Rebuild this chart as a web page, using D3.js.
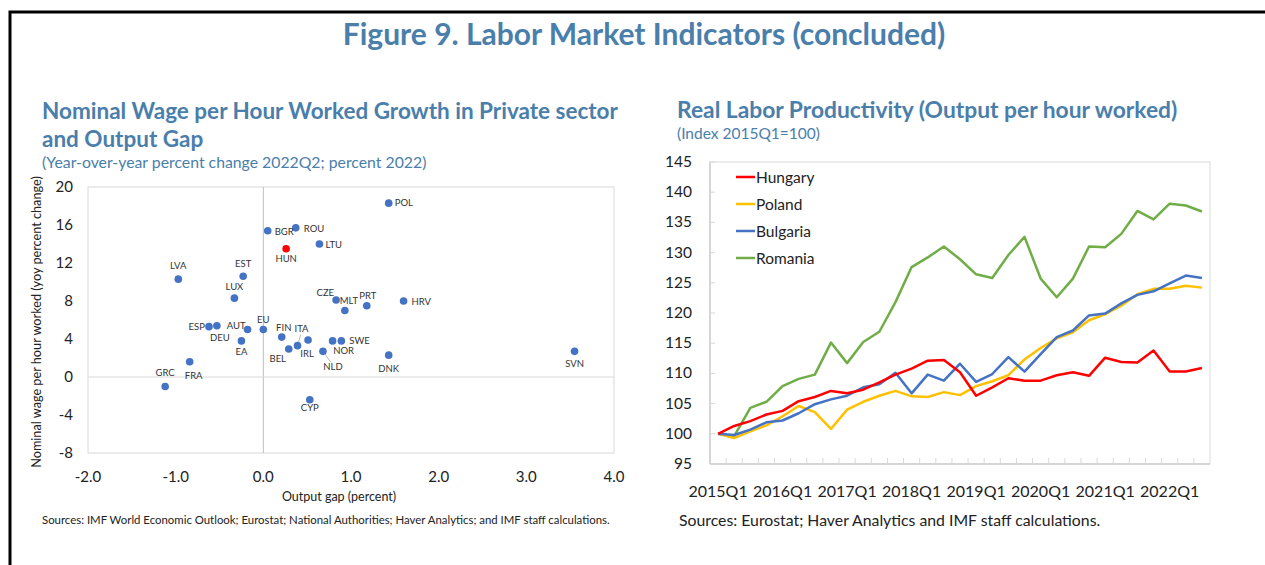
<!DOCTYPE html>
<html>
<head>
<meta charset="utf-8">
<script src="https://cdn.jsdelivr.net/npm/d3@7"></script>
<style>
  body { margin: 0; background: #fff; }
  text { font-family: Lato, "Open Sans", sans-serif; }
</style>
</head>
<body>
<svg id="chart" width="1265" height="565"></svg>
<script>
// scatter: output gap (x) vs nominal wage growth (y)
const countries = ['POL','BGR','ROU','HUN','LTU','CZE','MLT','PRT','HRV','EST','LVA','LUX',
  'ESP','DEU','AUT','EA','EU','FIN','ITA','IRL','BEL','NOR','SWE','NLD','DNK','FRA','GRC','CYP','SVN'];
const outputGap = [1.43, 0.05, 0.37, 0.26, 0.64, 0.83, 0.93, 1.18, 1.60, -0.23, -0.97, -0.33,
  -0.62, -0.53, -0.18, -0.25, 0.0, 0.21, 0.39, 0.51, 0.29, 0.79, 0.89, 0.68, 1.43, -0.84, -1.12, 0.53, 3.55];
const wageGrowth = [18.3, 15.4, 15.7, 13.5, 14.0, 8.1, 7.0, 7.5, 8.0, 10.6, 10.3, 8.3,
  5.3, 5.4, 5.0, 3.8, 5.0, 4.2, 3.3, 3.9, 2.95, 3.8, 3.8, 2.7, 2.3, 1.6, -1.0, -2.4, 2.7];
const xTicks = [-2, -1, 0, 1, 2, 3, 4];
const yTicks = [-8, -4, 0, 4, 8, 12, 16, 20];

// line chart: real labor productivity, index 2015Q1=100
const quarters = [];
for (let y = 2015; y <= 2022; y++) for (let q = 1; q <= 4; q++) quarters.push(y + 'Q' + q);
quarters.length = 31; // through 2022Q3
const hungary  = [100, 101.3, 102.1, 103.2, 103.8, 105.4, 106.1, 107.1, 106.7, 107.3, 108.5, 109.8,
  110.8, 112.1, 112.2, 110.2, 106.3, 107.7, 109.2, 108.8, 108.8, 109.7, 110.2, 109.6, 112.6, 111.9,
  111.8, 113.8, 110.3, 110.3, 110.9];
const poland   = [100, 99.3, 100.4, 101.4, 102.9, 104.6, 103.6, 100.8, 104.0, 105.3, 106.3, 107.1,
  106.2, 106.1, 106.9, 106.4, 107.9, 108.7, 109.7, 112.3, 114.2, 115.8, 116.8, 118.8, 119.8, 121.2,
  123.1, 124.0, 124.0, 124.5, 124.2];
const bulgaria = [100, 99.8, 100.7, 101.9, 102.2, 103.4, 104.9, 105.7, 106.3, 107.7, 108.2, 110.1,
  106.7, 109.8, 108.8, 111.6, 108.6, 109.9, 112.7, 110.3, 113.2, 116.0, 117.1, 119.6, 119.9, 121.6,
  123.0, 123.6, 124.9, 126.2, 125.8];
const romania  = [100, 99.6, 104.3, 105.3, 107.9, 109.1, 109.8, 115.1, 111.7, 115.2, 116.9, 121.8,
  127.6, 129.2, 131.0, 128.9, 126.4, 125.8, 129.6, 132.6, 125.7, 122.6, 125.7, 131.0, 130.9, 133.1,
  136.9, 135.5, 138.1, 137.8, 136.8];
const seriesNames = ['Hungary', 'Poland', 'Bulgaria', 'Romania'];
const seriesColors = ['#ff0000', '#ffc000', '#4472c4', '#70ad47'];
const lineYTicks = [95, 100, 105, 110, 115, 120, 125, 130, 135, 140, 145];

const blue = '#4a7eab';
const svg = d3.select('#chart');

// frame
svg.append('path')
  .attr('d', 'M10,565 V12 H1265')
  .attr('fill', 'none').attr('stroke', '#000').attr('stroke-width', 3);

svg.append('text')
  .attr('x', 644).attr('y', 45)
  .attr('text-anchor', 'middle')
  .attr('fill', blue).attr('font-weight', 700).attr('font-size', 30)
  .text('Figure 9. Labor Market Indicators (concluded)');

// ---------- left panel ----------
const left = svg.append('g');
left.append('text').attr('x', 42).attr('y', 119)
  .attr('fill', blue).attr('font-weight', 700).attr('font-size', 22.5)
  .text('Nominal Wage per Hour Worked Growth in Private sector');
left.append('text').attr('x', 42).attr('y', 147)
  .attr('fill', blue).attr('font-weight', 700).attr('font-size', 22.5)
  .text('and Output Gap');
left.append('text').attr('x', 42).attr('y', 168)
  .attr('fill', blue).attr('font-size', 15.8)
  .text('(Year-over-year percent change 2022Q2; percent 2022)');

const xs = d3.scaleLinear().domain([-2, 4]).range([88, 614]);
const ys = d3.scaleLinear().domain([-8, 20]).range([453, 187]);

left.append('rect')
  .attr('x', xs(-2)).attr('y', ys(20))
  .attr('width', xs(4) - xs(-2)).attr('height', ys(-8) - ys(20))
  .attr('fill', 'none').attr('stroke', '#d9d9d9');
left.append('line')
  .attr('x1', xs(0)).attr('x2', xs(0)).attr('y1', ys(20)).attr('y2', ys(-8))
  .attr('stroke', '#bfbfbf');
left.append('line')
  .attr('x1', xs(-2)).attr('x2', xs(4)).attr('y1', ys(0)).attr('y2', ys(0))
  .attr('stroke', '#d9d9d9');

left.selectAll('.xtick').data(xTicks).enter().append('text')
  .attr('x', d => xs(d)).attr('y', 482)
  .attr('text-anchor', 'middle').attr('font-size', 15).attr('fill', '#222')
  .text(d => d.toFixed(1));
left.selectAll('.ytick').data(yTicks).enter().append('text')
  .attr('x', 73).attr('y', d => ys(d) + 5)
  .attr('text-anchor', 'end').attr('font-size', 15).attr('fill', '#222')
  .text(d => d);

left.append('text').attr('x', 339).attr('y', 501)
  .attr('text-anchor', 'middle').attr('font-size', 12.5).attr('fill', '#222')
  .text('Output gap (percent)');
left.append('text')
  .attr('transform', 'translate(41,322) rotate(-90)')
  .attr('text-anchor', 'middle').attr('font-size', 12.7).attr('fill', '#222')
  .text('Nominal wage per hour worked (yoy percent change)');
left.append('text').attr('x', 42).attr('y', 524)
  .attr('font-size', 11.4).attr('fill', '#222')
  .text('Sources: IMF World Economic Outlook; Eurostat; National Authorities; Haver Analytics; and IMF staff calculations.');

// label placement: [dx, dy, anchor, leader]
const labelPos = {
  POL: [6, 3, 'start'], BGR: [7, 4, 'start'], ROU: [8, 4, 'start'], HUN: [0, 13, 'middle'],
  LTU: [6, 4, 'start'], CZE: [-2, -4, 'end'], MLT: [4, -7, 'middle'], PRT: [1, -7, 'middle'],
  HRV: [8, 4, 'start'], EST: [0, -9, 'middle'], LVA: [0, -10, 'middle'], LUX: [0, -8, 'middle'],
  ESP: [-4, 3, 'end'], DEU: [3, 15, 'middle'], AUT: [-2, -1, 'end'], EA: [0, 14, 'middle'],
  EU: [0, -7, 'middle'], FIN: [2, -6, 'middle'], ITA: [4, -14, 'middle', true],
  IRL: [-1, 17, 'middle'], BEL: [-11, 13, 'middle'], NOR: [11, 13, 'middle'],
  SWE: [8, 3, 'start'], NLD: [10, 19, 'middle', true], DNK: [0, 17, 'middle'],
  FRA: [4, 17, 'middle'], GRC: [0, -11, 'middle'], CYP: [0, 11, 'middle'], SVN: [0, 16, 'middle']
};
const points = countries.map((c, i) => ({ name: c, x: outputGap[i], y: wageGrowth[i] }));

left.selectAll('.leader').data(points.filter(p => labelPos[p.name][3])).enter().append('line')
  .attr('x1', p => xs(p.x)).attr('y1', p => ys(p.y))
  .attr('x2', p => xs(p.x) + labelPos[p.name][0] * 0.8)
  .attr('y2', p => ys(p.y) + labelPos[p.name][1] + (labelPos[p.name][1] < 0 ? 3 : -8))
  .attr('stroke', '#a6a6a6').attr('stroke-width', 0.8);
left.selectAll('.dot').data(points).enter().append('circle')
  .attr('cx', p => xs(p.x)).attr('cy', p => ys(p.y)).attr('r', 3.8)
  .attr('fill', p => p.name === 'HUN' ? '#ff0000' : '#4472c4');
left.selectAll('.lbl').data(points).enter().append('text')
  .attr('x', p => xs(p.x) + labelPos[p.name][0])
  .attr('y', p => ys(p.y) + labelPos[p.name][1])
  .attr('text-anchor', p => labelPos[p.name][2])
  .attr('font-size', 9.5).attr('fill', '#333')
  .text(p => p.name);

// ---------- right panel ----------
const right = svg.append('g');
right.append('text').attr('x', 677).attr('y', 118)
  .attr('fill', blue).attr('font-weight', 700).attr('font-size', 22.8)
  .text('Real Labor Productivity (Output per hour worked)');
right.append('text').attr('x', 677).attr('y', 139)
  .attr('fill', blue).attr('font-size', 15.5)
  .text('(Index 2015Q1=100)');

const xb = d3.scaleBand().domain(quarters).range([710, 1210]);
const yl = d3.scaleLinear().domain([95, 145]).range([464, 162]);

right.append('rect')
  .attr('x', 710).attr('y', yl(145)).attr('width', 500).attr('height', yl(95) - yl(145))
  .attr('fill', 'none').attr('stroke', '#d9d9d9');
right.append('line').attr('x1', 710).attr('x2', 710).attr('y1', yl(145)).attr('y2', yl(95))
  .attr('stroke', '#bfbfbf');
right.append('line').attr('x1', 710).attr('x2', 1210).attr('y1', yl(95)).attr('y2', yl(95))
  .attr('stroke', '#bfbfbf');
right.selectAll('.ytk').data(lineYTicks).enter().append('line')
  .attr('x1', 710).attr('x2', 715).attr('y1', d => yl(d)).attr('y2', d => yl(d))
  .attr('stroke', '#d9d9d9');
right.selectAll('.ylab').data(lineYTicks).enter().append('text')
  .attr('x', 692).attr('y', d => yl(d) + 5)
  .attr('text-anchor', 'end').attr('font-size', 15.5).attr('fill', '#222')
  .text(d => d);
right.selectAll('.xtk').data(quarters.slice(1)).enter().append('line')
  .attr('x1', d => xb(d)).attr('x2', d => xb(d)).attr('y1', yl(95)).attr('y2', yl(95) - 6)
  .attr('stroke', '#d9d9d9');
right.selectAll('.xlab').data(quarters.filter(q => q.endsWith('Q1'))).enter().append('text')
  .attr('x', d => xb(d) + xb.bandwidth() / 2).attr('y', 497)
  .attr('text-anchor', 'middle').attr('font-size', 16).attr('fill', '#222')
  .text(d => d);

const allSeries = [hungary, poland, bulgaria, romania];
const line = d3.line()
  .x((d, i) => xb(quarters[i]) + xb.bandwidth() / 2)
  .y(d => yl(d));
// draw order so red/yellow sit under blue like the original
[3, 1, 2, 0].forEach(k => {
  right.append('path').datum(allSeries[k])
    .attr('d', line).attr('fill', 'none')
    .attr('stroke', seriesColors[k]).attr('stroke-width', 2.5)
    .attr('stroke-linejoin', 'round');
});

const legend = right.selectAll('.leg').data(seriesNames).enter().append('g')
  .attr('transform', (d, i) => `translate(736,${177 + i * 27})`);
legend.append('line').attr('x1', 0).attr('x2', 19)
  .attr('stroke', (d, i) => seriesColors[i]).attr('stroke-width', 2.5);
legend.append('text').attr('x', 20).attr('y', 5.5)
  .attr('font-size', 15.5).attr('fill', '#222').text(d => d);

right.append('text').attr('x', 679).attr('y', 526)
  .attr('font-size', 15.8).attr('fill', '#222')
  .text('Sources: Eurostat; Haver Analytics and IMF staff calculations.');
</script>
</body>
</html>
